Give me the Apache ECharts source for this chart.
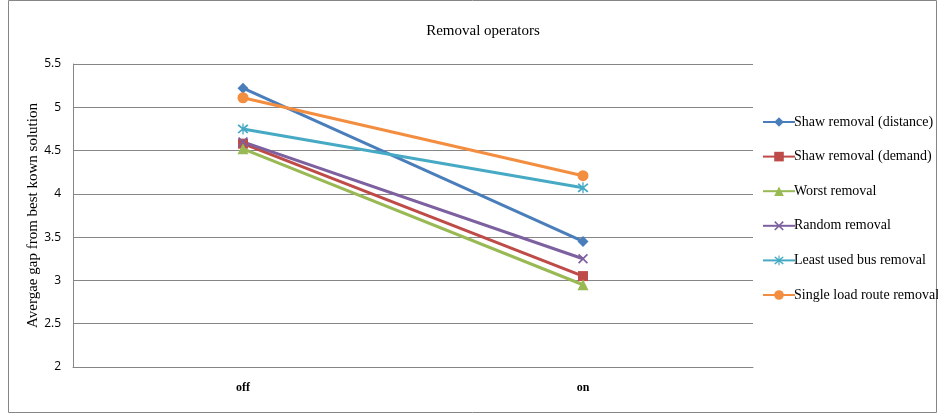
<!DOCTYPE html>
<html><head><meta charset="utf-8">
<script src="https://cdn.jsdelivr.net/npm/echarts@6/dist/echarts.min.js"></script>
<style>html,body{margin:0;padding:0;background:#fff}#c{width:938px;height:417px}</style>
</head><body><div id="c"></div>
<script>
const categories = ['off', 'on'];
const shawDistance = [5.22, 3.45];
const shawDemand = [4.58, 3.05];
const worstRemoval = [4.52, 2.95];
const randomRemoval = [4.60, 3.25];
const leastUsedBus = [4.75, 4.07];
const singleLoadRoute = [5.11, 4.21];
const seriesNames = ['Shaw removal (distance)', 'Shaw removal (demand)', 'Worst removal', 'Random removal', 'Least used bus removal', 'Single load route removal'];
const yTicks = [2, 2.5, 3, 3.5, 4, 4.5, 5, 5.5];

const colors = ['#4A7EBB', '#BE4B48', '#98B954', '#7D60A0', '#46AAC5', '#F38D3F'];
const xPath = 'path://M1.2,0 L5,3.8 L8.8,0 L10,1.2 L6.2,5 L10,8.8 L8.8,10 L5,6.2 L1.2,10 L0,8.8 L3.8,5 L0,1.2 Z';
const starPath = 'path://M1.2,0 L5,3.8 L8.8,0 L10,1.2 L6.2,5 L10,8.8 L8.8,10 L5,6.2 L1.2,10 L0,8.8 L3.8,5 L0,1.2 Z M4.4,-1 L5.6,-1 L5.6,11 L4.4,11 Z';
const symbols = ['diamond', 'rect', 'triangle', xPath, starPath, 'circle'];
const sizes = [11, 10, 11, 10, 11, 11];
const datas = [shawDistance, shawDemand, worstRemoval, randomRemoval, leastUsedBus, singleLoadRoute];
const serif = '"Liberation Serif", "Times New Roman", serif';

const chart = echarts.init(document.getElementById('c'));
chart.setOption({
  animation: false,
  graphic: [{type: 'rect', shape: {x: 8.5, y: 0.5, width: 928, height: 412}, style: {fill: 'none', stroke: '#868686', lineWidth: 1}}],
  title: {text: 'Removal operators', left: 478, textAlign: 'center', top: 19,
    textStyle: {fontFamily: serif, fontSize: 15, fontWeight: 'normal', color: '#000'}},
  grid: {left: 73, right: 185, top: 64, bottom: 50},
  legend: {
    orient: 'vertical', left: 757, top: 110, itemGap: 20.6, itemWidth: 32, itemHeight: 12,
    data: seriesNames,
    textStyle: {fontFamily: serif, fontSize: 14, color: '#000', padding: [0, 0, 0, -6]}
  },
  xAxis: {
    type: 'category', data: categories, boundaryGap: true,
    axisLine: {lineStyle: {color: '#868686'}}, axisTick: {show: false},
    axisLabel: {fontFamily: serif, fontWeight: 'bold', fontSize: 12, color: '#000', margin: 15}
  },
  yAxis: {
    type: 'value', min: 2, max: 5.5, interval: 0.5,
    name: 'Avergae gap from best kown solution', nameLocation: 'middle', nameGap: 32,
    nameMoveOverlap: false,
    nameTextStyle: {fontFamily: serif, fontSize: 15, color: '#000'},
    axisLine: {show: true, lineStyle: {color: '#868686'}}, axisTick: {show: false},
    axisLabel: {fontFamily: '"Open Sans", "Liberation Sans", sans-serif', fontSize: 12, color: '#000', margin: 12,
      formatter: v => yTicks.includes(v) ? String(v) : ''},
    splitLine: {lineStyle: {color: '#868686'}}
  },
  series: datas.map((d, i) => ({
    name: seriesNames[i], type: 'line', data: d,
    symbol: symbols[i], symbolSize: sizes[i],
    lineStyle: {width: 3, color: colors[i]},
    itemStyle: {color: colors[i]}
  }))
});
</script></body></html>
